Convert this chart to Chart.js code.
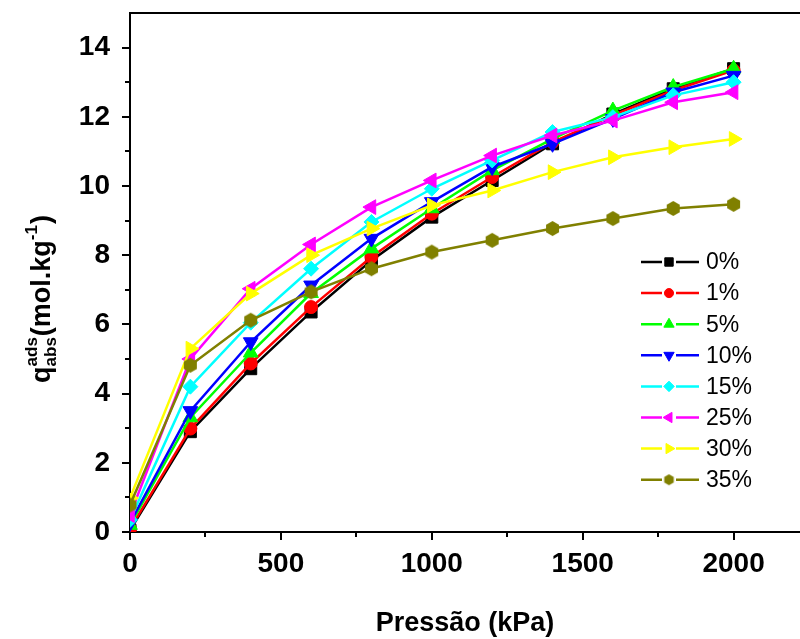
<!DOCTYPE html>
<html>
<head>
<meta charset="utf-8">
<script src="https://cdn.jsdelivr.net/npm/chart.js@4/dist/chart.umd.min.js"></script>
<style>
  body { margin: 0; background: #fff; }
  #wrap { width: 800px; height: 639px; }
</style>
</head>
<body>
<div id="wrap"><canvas id="grafico" width="800" height="639"></canvas></div>
<script>
// dados
const pressao = [0, 200, 400, 600, 800, 1000, 1200, 1400, 1600, 1800, 2000];
const q0  = [0.05, 2.90, 4.72, 6.36, 7.85, 9.10, 10.16, 11.22, 12.08, 12.81, 13.39];
const q1  = [0.09, 2.99, 4.87, 6.50, 7.95, 9.20, 10.26, 11.27, 12.04, 12.76, 13.34];
const q5  = [0.20, 3.31, 5.18, 6.90, 8.19, 9.35, 10.45, 11.36, 12.18, 12.86, 13.39];
const q10 = [0.26, 3.50, 5.49, 7.13, 8.48, 9.54, 10.55, 11.22, 11.94, 12.71, 13.19];
const q15 = [0.35, 4.20, 6.05, 7.61, 8.96, 9.92, 10.74, 11.56, 11.99, 12.62, 13.00];
const q25 = [0.49, 5.00, 7.03, 8.31, 9.39, 10.16, 10.88, 11.46, 11.89, 12.42, 12.71];
const q30 = [0.98, 5.30, 6.89, 8.00, 8.77, 9.44, 9.87, 10.40, 10.83, 11.12, 11.36];
const q35 = [0.78, 4.82, 6.12, 6.94, 7.61, 8.09, 8.43, 8.77, 9.06, 9.35, 9.47];

const rotulos = ["0%", "1%", "5%", "10%", "15%", "25%", "30%", "35%"];
const series = [q0, q1, q5, q10, q15, q25, q30, q35];
const cores = ["#000000", "#ff0000", "#00ff00", "#0000ff", "#00ffff", "#ff00ff", "#ffff00", "#808000"];

const xTicks = [0, 250, 500, 750, 1000, 1250, 1500, 1750, 2000];
const yTicks = [0, 1, 2, 3, 4, 5, 6, 7, 8, 9, 10, 11, 12, 13, 14];

const fonte = "'Liberation Sans', Arial, sans-serif";

// hexágono (não existe no Chart.js)
function hexagono(r, cor) {
  const c = document.createElement("canvas");
  c.width = c.height = Math.ceil(2 * r + 2);
  const g = c.getContext("2d");
  const m = c.width / 2;
  g.fillStyle = cor;
  g.beginPath();
  for (let i = 0; i < 6; i++) {
    const a = Math.PI / 6 + i * Math.PI / 3;
    g.lineTo(m + r * Math.cos(a), m + r * Math.sin(a));
  }
  g.closePath();
  g.fill();
  return c;
}

const simbolos = [
  { pointStyle: "rect", radius: 8.5, rotation: 0 },
  { pointStyle: "circle", radius: 6.5, rotation: 0 },
  { pointStyle: "triangle", radius: 8.5, rotation: 0 },
  { pointStyle: "triangle", radius: 8.5, rotation: 180 },
  { pointStyle: "rectRot", radius: 7.5, rotation: 0 },
  { pointStyle: "triangle", radius: 8.5, rotation: -90 },
  { pointStyle: "triangle", radius: 8.5, rotation: 90 },
  { pointStyle: hexagono(7.5, cores[7]), radius: 7.5, rotation: 0 }
];

const datasets = series.map((vals, i) => ({
  label: rotulos[i],
  data: pressao.map((p, j) => ({ x: p, y: vals[j] })),
  borderColor: cores[i],
  backgroundColor: cores[i],
  borderWidth: 2.5,
  pointStyle: simbolos[i].pointStyle,
  pointRadius: simbolos[i].radius,
  pointRotation: simbolos[i].rotation,
  pointBorderWidth: 1,
  pointBorderColor: cores[i],
  pointBackgroundColor: cores[i],
  tension: 0,
  clip: 0,
  order: series.length - i
}));

// moldura, marcas dos eixos, título do eixo y e legenda
const extras = {
  id: "extras",
  afterDraw(chart) {
    const ctx = chart.ctx;
    const a = chart.chartArea;
    const sx = chart.scales.x, sy = chart.scales.y;
    ctx.save();
    ctx.strokeStyle = "#000";
    ctx.lineWidth = 2;
    ctx.beginPath();
    ctx.moveTo(a.left - 1, a.top);
    ctx.lineTo(a.right, a.top);
    ctx.stroke();

    ctx.beginPath();
    xTicks.forEach(v => {
      const px = Math.round(sx.getPixelForValue(v));
      const len = v % 500 === 0 ? 8 : 5;
      ctx.moveTo(px, a.bottom);
      ctx.lineTo(px, a.bottom + len);
    });
    yTicks.forEach(v => {
      const py = Math.round(sy.getPixelForValue(v));
      const len = v % 2 === 0 ? 8 : 5;
      ctx.moveTo(a.left, py);
      ctx.lineTo(a.left - len, py);
    });
    ctx.stroke();

    // título do eixo y: q^ads_abs(mol.kg^-1)
    const grande = "bold 27px " + fonte;
    const pequeno = "bold 17px " + fonte;
    ctx.fillStyle = "#000";
    ctx.font = grande;
    const wq = ctx.measureText("q").width;
    const wMol = ctx.measureText("(mol.kg").width;
    const wPar = ctx.measureText(")").width;
    ctx.font = pequeno;
    const wAds = ctx.measureText("ads").width;
    const wAbs = ctx.measureText("abs").width;
    const wSup = ctx.measureText("-1").width;
    const wIdx = Math.max(wAds, wAbs);
    const total = wq + wIdx + wMol + wSup + wPar + 2;
    ctx.translate(50, 299 + total / 2);
    ctx.rotate(-Math.PI / 2);
    ctx.textBaseline = "alphabetic";
    ctx.textAlign = "left";
    let x = 0;
    ctx.font = grande;
    ctx.fillText("q", x, 0);
    x += wq;
    ctx.font = pequeno;
    ctx.fillText("ads", x, -13);
    ctx.fillText("abs", x, 6);
    x += wIdx + 1;
    ctx.font = grande;
    ctx.fillText("(mol.kg", x, 0);
    x += wMol;
    ctx.font = pequeno;
    ctx.fillText("-1", x, -13);
    x += wSup + 1;
    ctx.font = grande;
    ctx.fillText(")", x, 0);
    ctx.restore();

    // legenda
    ctx.save();
    ctx.font = "23px " + fonte;
    ctx.textBaseline = "middle";
    ctx.fillStyle = "#000";
    rotulos.forEach((r, i) => {
      const y = 262 + i * 31.1;
      ctx.strokeStyle = cores[i];
      ctx.lineWidth = 2.5;
      ctx.beginPath();
      ctx.moveTo(641, y); ctx.lineTo(662, y);
      ctx.moveTo(676, y); ctx.lineTo(699, y);
      ctx.stroke();
      ctx.fillStyle = cores[i];
      ctx.strokeStyle = cores[i];
      ctx.lineWidth = 1;
      const estilo = i === 7 ? hexagono(5.5, cores[7]) : simbolos[i].pointStyle;
      Chart.helpers.drawPoint(ctx, {
        pointStyle: estilo,
        radius: simbolos[i].radius * 0.7,
        rotation: simbolos[i].rotation,
        borderWidth: 1
      }, 669, y);
      ctx.fillStyle = "#000";
      ctx.fillText(r, 706, y + 1);
    });
    ctx.restore();
  }
};

new Chart(document.getElementById("grafico"), {
  type: "line",
  data: { datasets },
  options: {
    responsive: false,
    devicePixelRatio: 1,
    animation: false,
    layout: { autoPadding: false, padding: { top: 13, right: 0, left: 0, bottom: 0 } },
    plugins: { legend: { display: false }, tooltip: { enabled: false } },
    scales: {
      x: {
        type: "linear",
        min: 0,
        max: 2220,
        afterBuildTicks: s => { s.ticks = xTicks.map(v => ({ value: v })); },
        afterFit: s => {
          s.height = 107;
          s.paddingLeft = 0; s.paddingRight = 0;
          s.paddingTop = 0; s.paddingBottom = 0;
        },
        grid: { display: false, drawTicks: false },
        border: { display: true, color: "#000", width: 2 },
        ticks: {
          autoSkip: false,
          maxRotation: 0,
          padding: 15,
          color: "#000",
          font: { family: fonte, size: 28, weight: "bold" },
          callback: v => (v % 500 === 0 ? v : "")
        },
        title: {
          display: true,
          text: "Pressão (kPa)",
          color: "#000",
          font: { family: fonte, size: 27, weight: "bold" },
          padding: { top: 0, bottom: -1 }
        }
      },
      y: {
        min: 0,
        max: 15,
        afterBuildTicks: s => { s.ticks = yTicks.map(v => ({ value: v })); },
        afterFit: s => {
          s.width = 130;
          s.paddingLeft = 0; s.paddingRight = 0;
          s.paddingTop = 0; s.paddingBottom = 0;
        },
        grid: { display: false, drawTicks: false },
        border: { display: true, color: "#000", width: 2 },
        ticks: {
          autoSkip: false,
          padding: 20,
          color: "#000",
          font: { family: fonte, size: 28, weight: "bold" },
          callback: v => (v % 2 === 0 ? v : "")
        }
      }
    }
  },
  plugins: [extras]
});
</script>
</body>
</html>
